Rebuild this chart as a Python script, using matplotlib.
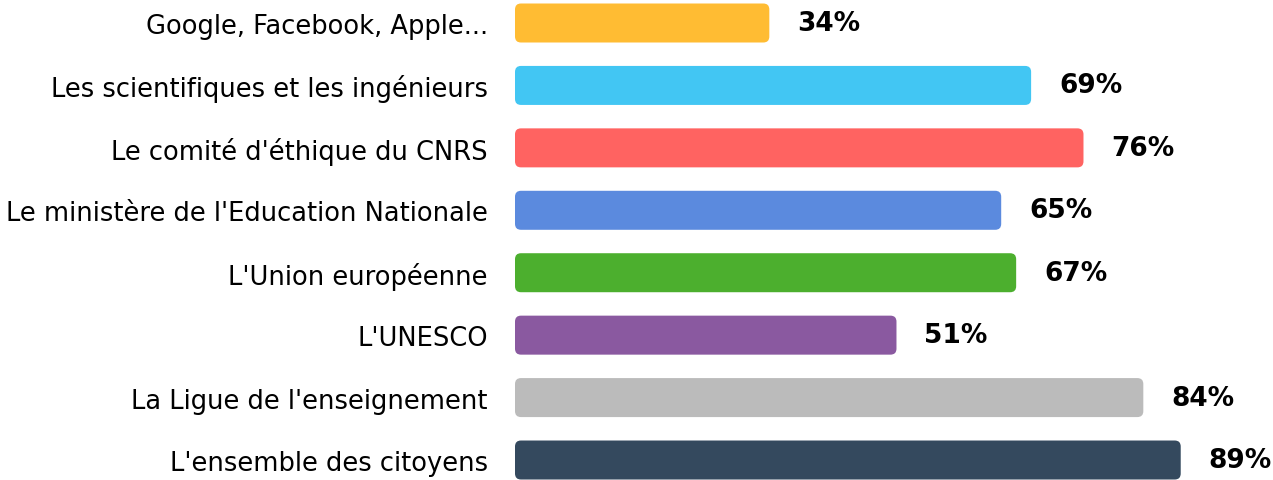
import matplotlib.pyplot as plt
from matplotlib.patches import FancyBboxPatch

categories = [
    "Google, Facebook, Apple...",
    "Les scientifiques et les ingénieurs",
    "Le comité d'éthique du CNRS",
    "Le ministère de l'Education Nationale",
    "L'Union européenne",
    "L'UNESCO",
    "La Ligue de l'enseignement",
    "L'ensemble des citoyens",
]
values = [34, 69, 76, 65, 67, 51, 84, 89]
colors = ["#ffbc33", "#42c6f3", "#ff6361", "#5b8ade", "#4caf2e",
          "#8a59a0", "#bbbbbb", "#34495e"]

W, H = 1273, 481
px_x = 7.48      # pixels per percent
px_y = 62.43     # pixels per row
x0 = 515         # pixel where bars start
y0 = 24          # pixel centre of first row

fig = plt.figure(figsize=(W / 100, H / 100), dpi=100)
ax = fig.add_axes([x0 / W, 0, 1 - x0 / W, 1])
ax.set_xlim(0, (W - x0) / px_x)
ax.set_ylim((H - y0) / px_y, -y0 / px_y)

bar_h = 39 / px_y
aspect = (1 / px_y) / (1 / px_x)
for i, (v, c) in enumerate(zip(values, colors)):
    box = FancyBboxPatch((0, i - bar_h / 2), v, bar_h,
                         boxstyle="round,pad=0,rounding_size=0.8",
                         mutation_aspect=aspect, fc=c, ec="none")
    ax.add_patch(box)
    ax.text(v + 28 / px_x, i, f"{v}%", va="center", ha="left",
            fontsize=19, fontweight="bold", color="black")

ax.set_yticks(range(len(categories)))
ax.set_yticklabels(categories, fontsize=18.5, color="black")
ax.tick_params(axis="y", length=0, pad=19.5)
ax.set_xticks([])
for s in ax.spines.values():
    s.set_visible(False)

fig.savefig("out.png", dpi=100)
